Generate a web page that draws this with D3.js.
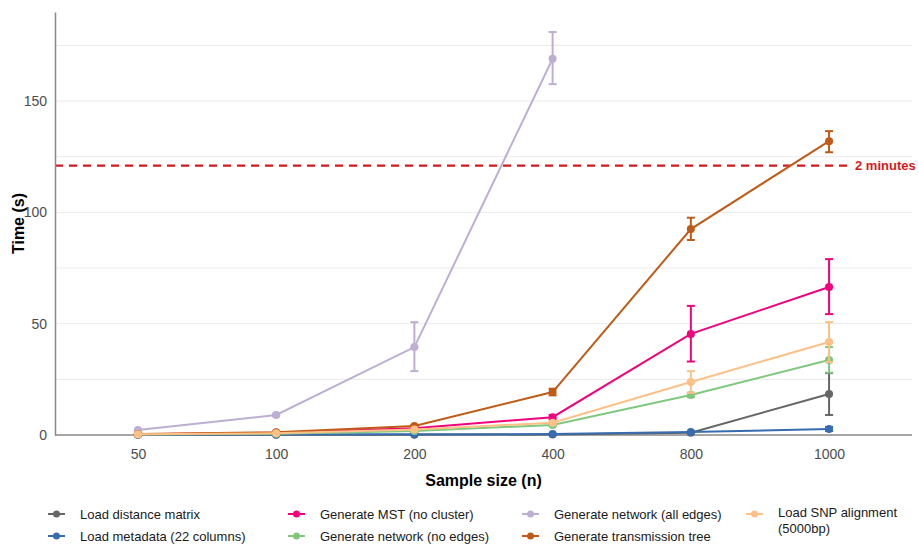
<!DOCTYPE html>
<html>
<head>
<meta charset="utf-8">
<script src="https://cdn.jsdelivr.net/npm/d3@7"></script>
<style>
  body { margin: 0; background: #fff; }
  svg { font-family: "Liberation Sans", Arial, sans-serif; }
</style>
</head>
<body>
<svg id="chart" width="919" height="546"></svg>
<script>
// sample sizes on the x axis (categorical)
const sampleSizes = ['50', '100', '200', '400', '800', '1000'];
const yTicks = [0, 50, 100, 150];
const gridValues = [25, 50, 75, 100, 125, 150, 175];

// mean times (s) per step, with error bar low/high
const distMean = [0.1, 0.1, 0.1, 0.2, 1.0, 18.4];
const distLow  = [0.1, 0.1, 0.1, 0.2, 0.8, 9.0];
const distHigh = [0.1, 0.1, 0.1, 0.2, 1.2, 27.8];

const metaMean = [0.1, 0.2, 0.3, 0.4, 1.3, 2.7];
const metaLow  = [0.1, 0.2, 0.3, 0.3, 1.1, 1.8];
const metaHigh = [0.1, 0.2, 0.3, 0.5, 1.5, 3.6];

const mstMean = [0.3, 1.0, 3.0, 8.0, 45.4, 66.5];
const mstLow  = [0.3, 0.9, 2.6, 7.0, 33.0, 54.3];
const mstHigh = [0.3, 1.1, 3.4, 9.0, 58.0, 79.0];

const netMean = [0.2, 0.6, 1.8, 4.5, 18.0, 33.7];
const netLow  = [0.2, 0.5, 1.6, 4.0, 17.0, 28.0];
const netHigh = [0.2, 0.7, 2.0, 5.0, 19.0, 39.5];

const allMean = [2.2, 9.0, 39.5, 169.0];
const allLow  = [2.0, 8.5, 28.7, 157.6];
const allHigh = [2.4, 9.5, 50.7, 181.0];

const treeMean = [0.5, 1.2, 4.0, 19.3, 92.5, 132.0];
const treeLow  = [0.4, 1.0, 3.6, 17.8, 87.6, 127.0];
const treeHigh = [0.6, 1.4, 4.4, 20.8, 97.6, 136.5];

const snpMean = [0.3, 0.8, 2.5, 5.5, 23.8, 41.8];
const snpLow  = [0.3, 0.7, 2.2, 5.0, 18.9, 32.8];
const snpHigh = [0.3, 0.9, 2.8, 6.0, 28.7, 50.7];

const seriesNames = [
  'Load distance matrix', 'Load metadata (22 columns)',
  'Generate MST (no cluster)', 'Generate network (no edges)',
  'Generate network (all edges)', 'Generate transmission tree',
  'Load SNP alignment (5000bp)'
];
const seriesColors = ['#666666', '#386cb0', '#f0027f', '#7fc97f', '#beaed4', '#bf5b17', '#fdc086'];
const seriesMeans = [distMean, metaMean, mstMean, netMean, allMean, treeMean, snpMean];
const seriesLows = [distLow, metaLow, mstLow, netLow, allLow, treeLow, snpLow];
const seriesHighs = [distHigh, metaHigh, mstHigh, netHigh, allHigh, treeHigh, snpHigh];

const thresholdValue = 121;
const thresholdLabel = '2 minutes';

const svg = d3.select('#chart');
const margin = { top: 12, right: 7, bottom: 111, left: 55 };
const W = 919, H = 546;

const x = d3.scalePoint()
  .domain(sampleSizes)
  .range([margin.left, W - margin.right])
  .padding(0.6);

const y = d3.scaleLinear()
  .domain([0, 190])
  .range([H - margin.bottom, margin.top]);

// gridlines
svg.append('g')
  .selectAll('line')
  .data(gridValues)
  .join('line')
  .attr('x1', margin.left)
  .attr('x2', W - margin.right)
  .attr('y1', d => y(d))
  .attr('y2', d => y(d))
  .attr('stroke', '#ebebeb')
  .attr('stroke-width', 1);

// threshold line
svg.append('line')
  .attr('x1', margin.left)
  .attr('x2', 850)
  .attr('y1', y(thresholdValue))
  .attr('y2', y(thresholdValue))
  .attr('stroke', '#d7191c')
  .attr('stroke-width', 2.2)
  .attr('stroke-dasharray', '8,6');

svg.append('text')
  .attr('x', 855)
  .attr('y', y(thresholdValue))
  .attr('dy', '0.35em')
  .style('font-size', '13px')
  .style('font-weight', 'bold')
  .style('fill', '#d7191c')
  .text(thresholdLabel);

// axes
const xAxis = svg.append('g')
  .attr('transform', `translate(0,${y(0)})`)
  .call(d3.axisBottom(x).tickSize(0).tickPadding(14));
xAxis.select('.domain').attr('stroke', '#888').attr('stroke-width', 1.5)
  .attr('d', `M${margin.left},0H${W - margin.right}`);
xAxis.selectAll('text').style('font-size', '14px').style('fill', '#4d4d4d')
  .style('font-family', '"Liberation Sans", Arial, sans-serif');

const yAxis = svg.append('g')
  .attr('transform', `translate(${margin.left},0)`)
  .call(d3.axisLeft(y).tickValues(yTicks).tickSize(0).tickPadding(8));
yAxis.select('.domain').attr('stroke', '#888').attr('stroke-width', 1.5);
yAxis.selectAll('text').style('font-size', '14px').style('fill', '#4d4d4d')
  .style('font-family', '"Liberation Sans", Arial, sans-serif');

// axis titles
svg.append('text')
  .attr('x', (margin.left + W - margin.right) / 2)
  .attr('y', 486)
  .attr('text-anchor', 'middle')
  .style('font-size', '16px')
  .style('font-weight', 'bold')
  .style('fill', '#000')
  .text('Sample size (n)');

svg.append('text')
  .attr('transform', `translate(24,${(margin.top + y(0)) / 2}) rotate(-90)`)
  .attr('text-anchor', 'middle')
  .style('font-size', '16px')
  .style('font-weight', 'bold')
  .style('fill', '#000')
  .text('Time (s)');

// series
const line = d3.line()
  .x(d => x(d.n))
  .y(d => y(d.v));

seriesNames.forEach((name, i) => {
  const pts = seriesMeans[i].map((v, j) => ({
    n: sampleSizes[j], v: v, lo: seriesLows[i][j], hi: seriesHighs[i][j]
  }));
  const col = seriesColors[i];
  const g = svg.append('g');

  g.append('path')
    .datum(pts)
    .attr('fill', 'none')
    .attr('stroke', col)
    .attr('stroke-width', 2)
    .attr('d', line);

  // error bars
  const eb = g.selectAll('.eb')
    .data(pts)
    .join('g')
    .attr('stroke', col)
    .attr('stroke-width', 2);
  eb.append('line')
    .attr('x1', d => x(d.n)).attr('x2', d => x(d.n))
    .attr('y1', d => y(d.lo)).attr('y2', d => y(d.hi));
  eb.append('line')
    .attr('x1', d => x(d.n) - 4).attr('x2', d => x(d.n) + 4)
    .attr('y1', d => y(d.lo)).attr('y2', d => y(d.lo));
  eb.append('line')
    .attr('x1', d => x(d.n) - 4).attr('x2', d => x(d.n) + 4)
    .attr('y1', d => y(d.hi)).attr('y2', d => y(d.hi));

  g.selectAll('circle')
    .data(pts)
    .join('circle')
    .attr('cx', d => x(d.n))
    .attr('cy', d => y(d.v))
    .attr('r', 4)
    .attr('fill', col);
});

// legend: column-major, 2 rows
const legendCols = [48, 288, 522, 746];
const legendRows = [514, 536];
seriesNames.forEach((name, i) => {
  const cx = legendCols[Math.floor(i / 2)];
  const cy = legendRows[i % 2];
  const g = svg.append('g');
  g.append('line')
    .attr('x1', cx).attr('x2', cx + 17)
    .attr('y1', cy).attr('y2', cy)
    .attr('stroke', seriesColors[i]).attr('stroke-width', 2);
  g.append('circle')
    .attr('cx', cx + 8.5).attr('cy', cy).attr('r', 3.5)
    .attr('fill', seriesColors[i]);
  const label = name === 'Load SNP alignment (5000bp)'
    ? ['Load SNP alignment', '(5000bp)'] : [name];
  const t = g.append('text')
    .attr('x', cx + 32)
    .attr('y', cy)
    .style('font-size', '13px')
    .style('fill', '#1a1a1a');
  label.forEach((s, k) => {
    t.append('tspan')
      .attr('x', cx + 32)
      .attr('dy', k === 0 ? '0.35em' : '1.25em')
      .text(s);
  });
  if (label.length > 1) t.attr('y', cy - 2);
});
</script>
</body>
</html>
